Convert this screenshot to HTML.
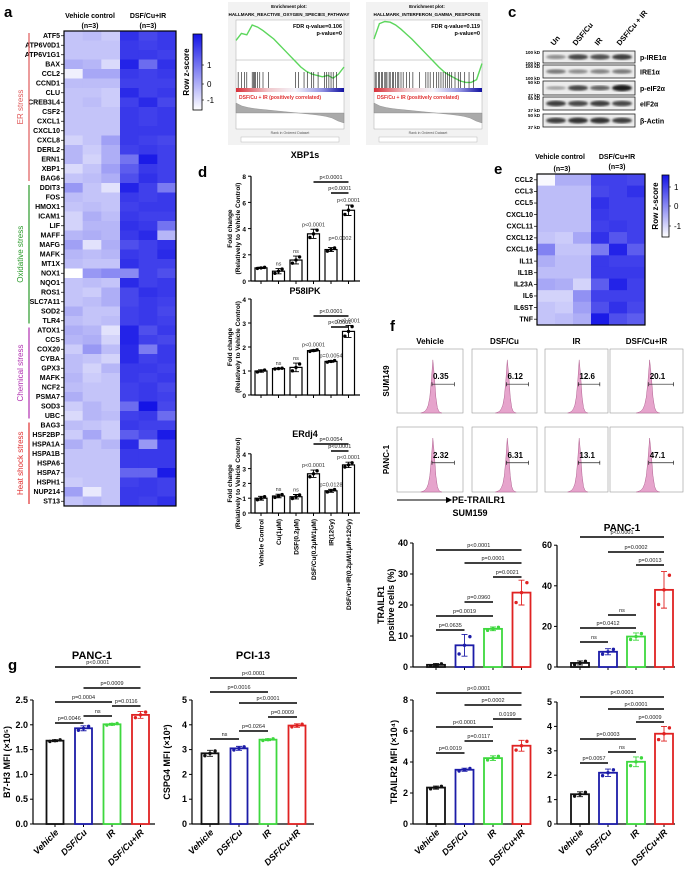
<!DOCTYPE html>
<html><head><meta charset="utf-8"><style>
html,body{margin:0;padding:0;background:#fff;}
svg{display:block;font-family:"Liberation Sans",Arial,sans-serif;}
</style></head><body>
<svg id="fig" width="685" height="872" viewBox="0 0 685 872" xmlns="http://www.w3.org/2000/svg">
<defs>
<linearGradient id="zbar" x1="0" y1="1" x2="0" y2="0"><stop offset="0" stop-color="#ffffff"/><stop offset="1" stop-color="#1414e6"/></linearGradient>
<linearGradient id="rankbar" x1="0" y1="0" x2="1" y2="0"><stop offset="0" stop-color="#d8303a"/><stop offset="0.3" stop-color="#f0c8cc"/><stop offset="0.55" stop-color="#f4f4fa"/><stop offset="0.8" stop-color="#9090e0"/><stop offset="1" stop-color="#1010a0"/></linearGradient>
<filter id="blur"><feGaussianBlur stdDeviation="1.1"/></filter>
</defs>
<g font-weight="bold">
<text x="4" y="17" font-size="15">a</text>
<text x="232" y="17" font-size="15">b</text>
<text x="508" y="17" font-size="15">c</text>
<text x="198" y="177" font-size="15">d</text>
<text x="494" y="174" font-size="15">e</text>
<text x="390" y="331" font-size="15">f</text>
<text x="8" y="670" font-size="15">g</text>
</g>
</svg>
<script>
const NS='http://www.w3.org/2000/svg';
const svg=document.getElementById('fig');
function mk(tag,attrs,txt,parent){const e=document.createElementNS(NS,tag);for(const k in attrs)e.setAttribute(k,attrs[k]);if(txt!=null)e.textContent=txt;(parent||svg).appendChild(e);return e;}

/* ---------- Panel a data ---------- */
const aGenes=['ATF5','ATP6V0D1','ATP6V1G1','BAX','CCL2','CCND1','CLU','CREB3L4','CSF2','CXCL1','CXCL10','CXCL8','DERL2','ERN1','XBP1','BAG6','DDIT3','FOS','HMOX1','ICAM1','LIF','MAFF','MAFG','MAFK','MT1X','NOX1','NQO1','ROS1','SLC7A11','SOD2','TLR4','ATOX1','CCS','COX20','CYBA','GPX3','MAFK','NCF2','PSMA7','SOD3','UBC','BAG3','HSF2BP','HSPA1A','HSPA1B','HSPA6','HSPA7','HSPH1','NUP214','ST13'];
const aZ=[
[-0.8,-0.7,-0.9,1.2,0.9,1.1],[-0.8,-0.8,-0.8,1.1,1.0,1.1],[-0.8,-0.8,-0.8,1.1,1.1,1.0],[-0.5,-0.6,-1.1,1.4,0.4,1.2],
[-1.4,-0.4,-0.4,1.1,1.0,1.1],[-0.7,-0.7,-0.7,1.0,1.0,1.0],[-0.8,-0.8,-0.9,1.3,1.0,1.1],[-0.8,-0.7,-0.9,1.0,1.3,0.9],
[-0.8,-0.8,-0.8,1.1,1.0,1.1],[-0.8,-0.8,-0.8,1.1,1.0,1.1],[-0.8,-0.8,-0.8,1.1,1.1,1.1],[-1.0,-0.8,-0.3,1.1,1.0,0.9],
[-0.6,-0.9,-0.5,1.0,1.1,1.0],[-0.6,-1.0,-0.5,0.3,1.5,1.0],[-1.1,-0.8,-0.3,0.6,1.1,1.0],[-0.8,-0.7,-0.5,0.8,1.2,1.0],
[-0.2,-0.8,-1.2,1.4,1.0,0.2],[-0.7,-0.8,-0.8,1.1,1.0,1.1],[-0.8,-0.7,-0.8,1.0,1.1,1.1],[-1.0,-0.5,-0.7,1.1,1.0,1.0],
[-1.0,-0.6,-0.6,1.2,1.1,0.3],[-0.6,-0.5,-0.6,1.1,1.3,-0.6],[-0.3,-1.2,-0.5,0.8,1.0,1.2],[-0.6,-0.7,-0.6,1.1,1.0,1.3],
[-0.7,-0.8,-0.8,1.2,1.0,1.0],[-1.6,-0.2,0.0,0.0,1.0,0.8],[-0.8,-0.7,-0.8,1.3,1.0,1.1],[-0.8,-0.9,-0.5,0.9,1.2,1.1],
[-0.8,-0.7,-0.5,0.9,1.1,1.0],[-0.5,-0.8,-0.8,1.0,1.1,0.9],[-0.7,-0.8,-0.7,1.0,1.1,1.0],[-0.5,-0.6,-1.2,1.4,0.8,1.1],
[-0.6,-0.5,-1.0,1.4,1.0,0.9],[-0.9,-0.2,-0.7,1.3,0.2,1.1],[-0.7,-0.8,-1.0,1.3,1.0,1.1],[-0.7,-1.0,-0.6,1.1,1.1,1.0],
[-0.6,-0.9,-0.8,1.1,1.0,1.1],[-0.7,-0.8,-0.8,1.0,1.1,0.9],[-0.5,-0.8,-0.8,1.0,1.1,1.0],[-0.9,-0.6,-0.8,0.4,1.6,0.9],
[-1.1,-0.6,-0.7,1.0,1.1,0.4],[-0.7,-0.8,-0.9,1.1,1.0,1.0],[-0.9,-0.4,-0.9,0.6,0.9,1.5],[-0.5,-0.8,-0.6,1.3,-0.2,1.1],
[-0.8,-0.8,-0.8,1.1,1.1,1.1],[-0.8,-0.8,-0.8,1.1,1.1,1.1],[-0.8,-0.8,-0.8,0.5,0.5,1.5],[-0.9,-0.8,-0.8,1.0,1.1,1.0],
[-0.3,-1.3,-0.8,1.1,1.1,1.0],[-0.8,-0.6,-0.8,1.1,1.0,1.2]];
const aGroups=[{name:'ER stress',start:0,end:15,color:'#e05a5a'},{name:'Oxidative stress',start:16,end:30,color:'#2a9a2a'},{name:'Chemical stress',start:31,end:40,color:'#b030b0'},{name:'Heat shock stress',start:41,end:49,color:'#e03030'}];

/* ---------- Panel e data ---------- */
const eGenes=['CCL2','CCL3','CCL5','CXCL10','CXCL11','CXCL12','CXCL16','IL11','IL1B','IL23A','IL6','IL6ST','TNF'];
const eZ=[[-1.5,-0.5,-0.5,1.0,1.0,0.9],[-0.7,-0.7,-0.7,0.9,1.0,1.2],[-0.7,-0.7,-0.7,1.2,1.0,1.0],[-0.7,-0.7,-0.7,1.1,1.0,1.0],
[-0.7,-0.7,-0.7,1.0,1.1,1.0],[-0.8,-0.9,-0.4,1.2,0.7,1.0],[0.1,-0.8,-0.8,0.2,1.4,0.6],[-0.5,-0.7,-0.7,1.1,1.0,1.0],
[-0.7,-0.7,-0.7,1.1,1.1,1.1],[-0.4,-0.5,-1.0,0.6,1.4,1.0],[-1.0,-1.0,-0.1,1.0,1.0,1.0],[-0.8,-0.9,-0.3,0.8,1.2,0.9],[-0.8,-0.7,-0.5,1.5,0.8,0.6]];

/* ---------- Panel b data ---------- */
const gsea1ES=[0.28,0.38,0.36,0.5,0.47,0.42,0.36,0.3,0.22,0.14,0.06,-0.02,-0.1,-0.16,-0.2,-0.22,-0.24,-0.22,-0.26,-0.2,-0.1];
const gsea2ES=[0.3,0.52,0.55,0.54,0.5,0.44,0.37,0.3,0.22,0.14,0.06,-0.02,-0.1,-0.17,-0.22,-0.26,-0.3,-0.32,-0.32,-0.28,-0.05];
const gsea1Hits=[0.02,0.05,0.08,0.1,0.15,0.16,0.17,0.18,0.2,0.22,0.25,0.3,0.55,0.58,0.63,0.66,0.7,0.72,0.76,0.82,0.84,0.86,0.88,0.9,0.93];
const gsea2Hits=[0.01,0.02,0.04,0.05,0.07,0.08,0.1,0.11,0.12,0.14,0.15,0.17,0.18,0.2,0.22,0.23,0.25,0.27,0.3,0.33,0.36,0.42,0.48,0.5,0.52,0.55,0.58,0.6,0.62,0.64,0.66,0.68,0.7,0.72,0.75,0.78,0.8,0.84,0.88,0.92];
const gseaRank=[1,0.7,0.55,0.45,0.38,0.32,0.26,0.2,0.14,0.08,0.02,-0.04,-0.1,-0.16,-0.24,-0.34,-0.5,-0.8,-1];
const gseaStats=[['FDR q-value=0.106','p-value=0'],['FDR q-value=0.119','p-value=0']];
const gseaTitles=['HALLMARK_REACTIVE_OXYGEN_SPECIES_PATHWAY','HALLMARK_INTERFERON_GAMMA_RESPONSE'];

/* ---------- Panel c data ---------- */
const wbLanes=['Un','DSF/Cu','IR','DSF/Cu + IR'];
const wbProteins=['p-IRE1α','IRE1α','p-eIF2α','eIF2α','β-Actin'];
const wbIntensity=[[0.45,0.8,0.75,0.85],[0.55,0.45,0.5,0.55],[0.35,0.8,0.65,1.0],[0.85,0.8,0.85,0.8],[0.85,0.9,0.9,0.85]];
const wbMarkers=[['100 kD','100 kD'],['100 kD','100 kD'],['50 kD','37 kD'],['50 kD','37 kD'],['50 kD','37 kD']];

/* ---------- Panel d data ---------- */
const dCats=['Vehicle Control','Cu(1μM)','DSF(0.2μM)','DSF/Cu(0.2μM/1μM)','IR(12Gy)','DSF/Cu+IR(0.2μM/1μM+12Gy)'];
const xbpVals=[1.0,0.75,1.6,3.6,2.4,5.4];
const xbpErr=[0.05,0.2,0.3,0.35,0.15,0.4];
const xbpTicks=[0,2,4,6,8];
const p58Vals=[1.0,1.1,1.15,1.85,1.4,2.65];
const p58Err=[0.05,0.02,0.18,0.04,0.04,0.25];
const p58Ticks=[0,1,2,3,4];
const erdVals=[1.0,1.15,1.1,2.65,1.5,3.25];
const erdErr=[0.13,0.12,0.15,0.25,0.1,0.18];
const erdTicks=[0,1,2,3,4];

/* ---------- Panel f / g data ---------- */
const grpCats=['Vehicle','DSF/Cu','IR','DSF/Cu+IR'];
const grpColors=['#111111','#1c1ca8','#3ed83e','#e02222'];
const flowCols=['Vehicle','DSF/Cu','IR','DSF/Cu+IR'];
const flowRows=['SUM149','PANC-1'];
const flowGates=[['0.35','6.12','12.6','20.1'],['2.32','6.31','13.1','47.1']];
const flowShape=[0,0.01,0.02,0.04,0.08,0.15,0.3,0.6,1.0,0.7,0.3,0.1,0.03,0.01,0];
const t1SumVals=[0.7,7,12.3,24];const t1SumErr=[0.4,3.5,0.6,4];const t1SumTicks=[0,10,20,30,40];
const t1PanVals=[2,7.5,15,38];const t1PanErr=[1,1.5,1.8,9];const t1PanTicks=[0,20,40,60];
const t2SumVals=[2.35,3.5,4.25,5.05];const t2SumErr=[0.1,0.1,0.15,0.35];const t2SumTicks=[0,2,4,6,8];
const t2PanVals=[1.22,2.1,2.55,3.7];const t2PanErr=[0.1,0.15,0.2,0.3];const t2PanTicks=[0,1,2,3,4,5];
const b7Vals=[1.68,1.93,2.01,2.2];const b7Err=[0.02,0.05,0.02,0.07];const b7Ticks=[0,0.5,1.0,1.5,2.0,2.5];
const cspVals=[2.85,3.05,3.4,3.97];const cspErr=[0.12,0.08,0.04,0.07];const cspTicks=[0,1,2,3,4,5];

/* ---------- heatmap ---------- */
function zcol(z){let t=(z+1.6)/3.2;t=Math.max(0,Math.min(1,t));const r=Math.round(255-t*235),g=Math.round(255-t*235),b=Math.round(255-t*25);return `rgb(${r},${g},${b})`;}
function heatmap(genes,Z,x0,y0,w,h,prefix){
  const cw=w/6,rh=h/genes.length;
  Z.forEach((row,i)=>{row.forEach((z,j)=>{
    const c=mk('rect',{x:x0+j*cw,y:y0+i*rh,width:cw+0.4,height:rh+0.4,fill:zcol(z)});
    
    
  });
    const t=mk('text',{x:x0-4,y:y0+i*rh+rh/2+2.2,'font-size':Math.min(7,rh*0.8),'font-weight':'bold','text-anchor':'end'},genes[i]);
    
    
    mk('line',{x1:x0-3,x2:x0,y1:y0+i*rh+rh/2,y2:y0+i*rh+rh/2,stroke:'#000','stroke-width':0.7});
  });
  const b=mk('rect',{x:x0,y:y0,width:w,height:h,fill:'none',stroke:'#000','stroke-width':1.2});
  
  
}
function colorbar(x,y,w,h,prefix,tickY){
  const r=mk('rect',{x:x,y:y,width:w,height:h,fill:'url(#zbar)',stroke:'#000','stroke-width':0.8});
  
  
  [['1',tickY[0]],['0',tickY[1]],['-1',tickY[2]]].forEach(([l,yy])=>{
    mk('line',{x1:x+w,x2:x+w+2,y1:yy,y2:yy,stroke:'#000','stroke-width':0.6});
    const t=mk('text',{x:x+w+5,y:yy+3,'font-size':8},l);
    
    
  });
  const tt=mk('text',{x:0,y:0,'font-size':8,'font-weight':'bold','text-anchor':'middle',transform:`translate(${x-4},${y+h/2}) rotate(-90)`},'Row z-score');
  
  
}
heatmap(aGenes,aZ,64,31,112,475,'heatmap-a');
colorbar(193,34,9,76,'heatmap-a',[65,84,100]);
[['Vehicle control',90,18],['(n=3)',90,28],['DSF/Cu+IR',148,18],['(n=3)',148,28]].forEach(([s,x,y])=>{
  const t=mk('text',{x:x,y:y,'font-size':7,'font-weight':'bold','text-anchor':'middle'},s);
  
  
});
aGroups.forEach(g=>{
  const rh=475/50,ya=31+g.start*rh+2,yb=31+(g.end+1)*rh-2;
  const l=mk('line',{x1:29,x2:29,y1:ya,y2:yb,stroke:g.color,'stroke-width':1.2});
  
  
  const t=mk('text',{x:0,y:0,'font-size':8,fill:g.color,'text-anchor':'middle',transform:`translate(23,${(ya+yb)/2}) rotate(-90)`},g.name);
  
  
});
heatmap(eGenes,eZ,537,174,108,151,'heatmap-e');
colorbar(662,175,7,62,'heatmap-e',[187,206,226]);
[['Vehicle control',560,159],['(n=3)',562,171],['DSF/Cu+IR',617,159],['(n=3)',617,169]].forEach(([s,x,y])=>{
  const t=mk('text',{x:x,y:y,'font-size':7,'font-weight':'bold','text-anchor':'middle'},s);
  
  
});

/* ---------- GSEA ---------- */
function gsea(x0,idx,es,hits){
  const w=118;
  const bg=mk('rect',{x:x0,y:2,width:w+4,height:143,fill:'#f2f2f2'});
  
  
  const t1=mk('text',{x:x0+w/2+2,y:8,'font-size':4.5,'font-weight':'bold','text-anchor':'middle'},'Enrichment plot:');
  
  
  const t2=mk('text',{x:x0+w/2+2,y:16,'font-size':4.6,'font-weight':'bold','text-anchor':'middle'},gseaTitles[idx]);
  
  
  const px=x0+8,pw=w-10;
  mk('rect',{x:px,y:20,width:pw,height:109,fill:'#fff',stroke:'#999','stroke-width':0.4});
  const ey=v=>60-v*70;
  mk('line',{x1:px,x2:px+pw,y1:ey(0),y2:ey(0),stroke:'#888','stroke-width':0.4});
  const pts=es.map((v,i)=>`${px+i/(es.length-1)*pw},${ey(v)}`).join(' ');
  const p=mk('polyline',{points:pts,fill:'none',stroke:'#5cd65c','stroke-width':1.4});
  
  
  hits.forEach(h=>{
    const l=mk('line',{x1:px+h*pw,x2:px+h*pw,y1:72,y2:88,stroke:'#111','stroke-width':0.6});
    
    
  });
  const rb=mk('rect',{x:px,y:88,width:pw,height:4,fill:'url(#rankbar)'});
  
  
  const rl=mk('text',{x:px+3,y:99,'font-size':5,'font-weight':'bold',fill:'#e03030'},'DSF/Cu + IR (positively correlated)');
  
  
  const ry=v=>113-v*10;
  const rp='M'+px+','+ry(0)+' '+gseaRank.map((v,i)=>`L${px+i/(gseaRank.length-1)*pw},${ry(v)}`).join(' ')+` L${px+pw},${ry(0)} Z`;
  const ra=mk('path',{d:rp,fill:'#aaa',stroke:'#777','stroke-width':0.3});
  
  
  gseaStats[idx].forEach((s,k)=>{
    const st=mk('text',{x:px+pw-2,y:28+k*7,'font-size':5.5,'font-weight':'bold','text-anchor':'end'},s);
    
    
  });
  mk('text',{x:px+pw/2,y:134,'font-size':3.5,fill:'#555','text-anchor':'middle'},'Rank in Ordered Dataset');
  const lg=mk('rect',{x:px+5,y:137,width:pw-10,height:5,fill:'#fff',stroke:'#aaa','stroke-width':0.4});
  
  
}
gsea(228,0,gsea1ES,gsea1Hits);
gsea(366,1,gsea2ES,gsea2Hits);

/* ---------- Western blot ---------- */
const wbRowsY=[51,65,81,97,114],wbRowH=[12,13,14,13,13];
wbProteins.forEach((p,r)=>{
  const y=wbRowsY[r],h=wbRowH[r];
  const box=mk('rect',{x:543,y:y,width:92,height:h,fill:'#ececec',stroke:'#222','stroke-width':0.8});
  
  
  wbIntensity[r].forEach((v,j)=>{
    const g=Math.round(230-v*200);
    const b=mk('ellipse',{cx:556+j*22,cy:y+h/2,rx:10,ry:1.2+v*2,fill:`rgb(${g},${g},${g})`,filter:'url(#blur)'});
    
    
  });
  const t=mk('text',{x:640,y:y+h/2+3,'font-size':7,'font-weight':'bold'},p);
  
  
  wbMarkers[r].forEach((m,k)=>{
    const mt=mk('text',{x:540,y:y+3+k*(h-1),'font-size':4.5,'font-weight':'bold','text-anchor':'end'},m);
    
    
  });
});
wbLanes.forEach((l,j)=>{
  const t=mk('text',{x:0,y:0,'font-size':7.5,'font-weight':'bold',transform:`translate(${554+j*22},46) rotate(-50)`},l);
  
  
});

/* ---------- Bar chart function ---------- */
function barChart(o){
  const y=v=>o.y0-v*o.unit;
  const top=y(o.ticks[o.ticks.length-1]);
  const ax=mk('line',{x1:o.axisX,x2:o.axisX,y1:o.y0,y2:top,stroke:'#000','stroke-width':1.2});
  
  
  const xa=mk('line',{x1:o.axisX,x2:o.axisX+o.width,y1:o.y0,y2:o.y0,stroke:'#000','stroke-width':1.2});
  
  
  o.ticks.forEach(t=>{
    mk('line',{x1:o.axisX-3,x2:o.axisX,y1:y(t),y2:y(t),stroke:'#000','stroke-width':1});
    const tl=mk('text',{x:o.axisX-5,y:y(t)+3,'font-size':o.fs||9,'font-weight':'bold','text-anchor':'end'},o.tickFmt?o.tickFmt(t):String(t));
    
    
  });
  o.vals.forEach((v,i)=>{
    const cx=o.c0+i*o.step,col=o.colors?o.colors[i]:'#000';
    mk('line',{x1:cx,x2:cx,y1:o.y0,y2:o.y0+3,stroke:'#000','stroke-width':1});
    const r=mk('rect',{x:cx-o.bw/2,y:y(v),width:o.bw,height:o.y0-y(v),fill:'#fff',stroke:col,'stroke-width':o.sw||1.8});
    
    
    const e=o.err[i];
    const el=mk('path',{d:`M${cx},${y(v+e)}V${y(v-e)}M${cx-3},${y(v+e)}H${cx+3}M${cx-3},${y(v-e)}H${cx+3}`,stroke:col,'stroke-width':0.9,fill:'none'});
    
    
    [-0.6,0,0.6].forEach((d,k)=>{
      const pt=mk('circle',{cx:cx+d*o.bw*0.5,cy:y(v+(k-1)*e*0.8),r:1.7,fill:col});
      
      
    });
    if(o.labels){
      let lab;
      if(o.rot===-90) lab=mk('text',{x:0,y:0,'font-size':6.5,'font-weight':'bold','text-anchor':'end',transform:`translate(${cx+2.5},${o.y0+6}) rotate(-90)`},o.labels[i]);
      else lab=mk('text',{x:0,y:0,'font-size':9,'font-weight':'bold','font-style':'italic','text-anchor':'end',transform:`translate(${cx+4},${o.y0+9}) rotate(-45)`},o.labels[i]);
      
      
    }
    if(o.ann&&o.ann[i]){
      const at=mk('text',{x:cx,y:y(v+e)-3,'font-size':5.5,fill:'#333','text-anchor':'middle'},o.ann[i]);
      
      
    }
  });
  (o.sig||[]).forEach(s=>{
    const xa2=o.c0+s[0]*o.step,xb=o.c0+s[1]*o.step;
    const l=mk('line',{x1:xa2,x2:xb,y1:s[2],y2:s[2],stroke:'#000','stroke-width':1.5});
    
    
    const t=mk('text',{x:(xa2+xb)/2,y:s[2]-3,'font-size':o.sigFs||5.5,fill:'#222','text-anchor':'middle'},s[3]);
    
    
  });
  if(o.title){
    const t=mk('text',{x:o.titleX,y:o.titleY,'font-size':o.titleFs||10,'font-weight':'bold','text-anchor':'middle'},o.title);
    
    
  }
  (o.ylab||[]).forEach((s,k)=>{
    const t=mk('text',{x:0,y:0,'font-size':o.ylabFs||9,'font-weight':'bold','text-anchor':'middle',transform:`translate(${o.ylabX+k*(o.ylabGap||10)},${(o.y0+top)/2}) rotate(-90)`},s);
    
    
  });
}

/* panel d */
const dCommon={axisX:251,width:109,c0:261,step:17.5,bw:12,sw:1.2,fs:6.5,titleX:305,titleFs:9,ylabX:232,ylabGap:8,ylabFs:6.5};
barChart(Object.assign({},dCommon,{name:'xbp1s',y0:281,unit:13.1,ticks:xbpTicks,vals:xbpVals,err:xbpErr,title:'XBP1s',titleY:158,
  ylab:['Fold change','(Relatively to Vehicle Control)'],ann:['','ns','ns','p<0.0001','','p<0.0001'],
  sig:[[3,5,182,'p<0.0001'],[4,5,193,'p<0.0001']]}));
mk('text',{x:340,y:240,'font-size':5.5,fill:'#333','text-anchor':'middle'},'p=0.0002');
barChart(Object.assign({},dCommon,{name:'p58ipk',y0:395,unit:24,ticks:p58Ticks,vals:p58Vals,err:p58Err,title:'P58IPK',titleY:294,
  ylab:['Fold change','(Relatively to Vehicle Control)'],ann:['','ns','ns','p<0.0001','p=0.0054','p<0.0001'],
  sig:[[3,5,316,'p<0.0001'],[4,5,327,'p<0.0001']]}));
barChart(Object.assign({},dCommon,{name:'erdj4',y0:513,unit:14.8,ticks:erdTicks,vals:erdVals,err:erdErr,title:'ERdj4',titleY:437,
  ylab:['Fold change','(Relatively to Vehicle Control)'],ann:['','ns','ns','p<0.0001','p=0.0128','p<0.0001'],
  sig:[[3,5,444,'p=0.0054'],[4,5,451,'p<0.0001']],labels:dCats,rot:-90}));

/* flow histograms */
const fX=[397,472,545,610],fW=[66,65,63,73],fY=[349,427],fH=[64,65];
flowCols.forEach((c,j)=>{
  const t=mk('text',{x:fX[j]+fW[j]/2,y:344,'font-size':8,'font-weight':'bold','text-anchor':'middle'},c);
  
  
});
flowRows.forEach((rname,r)=>{
  const rt=mk('text',{x:0,y:0,'font-size':8,'font-weight':'bold','text-anchor':'middle',transform:`translate(389,${fY[r]+fH[r]/2}) rotate(-90)`},rname);
  
  
  flowCols.forEach((c,j)=>{
    const x=fX[j],y=fY[r],w=fW[j],h=fH[r];
    const b=mk('rect',{x:x,y:y,width:w,height:h,fill:'#fff',stroke:'#999','stroke-width':0.6});
    
    
    const pw=w*0.32,px=x+w*0.52-pw/2;
    const d='M'+px+','+(y+h)+' '+flowShape.map((v,i)=>`L${px+i/(flowShape.length-1)*pw},${y+h-v*(h*0.83)}`).join(' ')+' Z';
    const p=mk('path',{d:d,fill:'#e6a4cc',stroke:'#b06090','stroke-width':0.5});
    
    
    const gx=x+w*0.53,gy=y+h*0.55;
    mk('path',{d:`M${gx},${gy}H${x+w*0.87}M${gx},${gy-2}V${gy+2}M${x+w*0.87},${gy-2}V${gy+2}`,stroke:'#222','stroke-width':0.7});
    const gt=mk('text',{x:gx+1,y:gy-5,'font-size':8,'font-weight':'bold'},flowGates[r][j]);
    
    
  });
});
mk('path',{d:'M397,500H450M446,497.5L451,500L446,502.5',stroke:'#000','stroke-width':1,fill:'#000'});
mk('text',{x:452,y:503,'font-size':9,'font-weight':'bold'},'PE-TRAILR1');
mk('text',{x:470,y:516,'font-size':9,'font-weight':'bold','text-anchor':'middle'},'SUM159');

/* f bar charts */
barChart({name:'trailr1-sum159',axisX:413,width:118,y0:667,unit:3.1,c0:436,step:28.5,bw:18,ticks:t1SumTicks,vals:t1SumVals,err:t1SumErr,colors:grpColors,
  ylab:['TRAILR1','positive cells (%)'],ylabX:384,ylabGap:10,
  sig:[[0,3,550,'p<0.0001'],[1,3,563,'p=0.0001'],[2,3,577,'p=0.0021'],[1,2,602,'p=0.0960'],[0,2,616,'p=0.0019'],[0,1,630,'p=0.0635']]});
barChart({name:'trailr1-panc1',axisX:557,width:118,y0:667,unit:2.03,c0:580,step:28,bw:18,ticks:t1PanTicks,vals:t1PanVals,err:t1PanErr,colors:grpColors,
  title:'PANC-1',titleX:622,titleY:531,
  sig:[[0,3,537,'p<0.0001'],[1,3,552,'p=0.0002'],[2,3,565,'p=0.0013'],[1,2,615,'ns'],[0,2,628,'p=0.0412'],[0,1,642,'ns']]});
barChart({name:'trailr2-sum159',axisX:413,width:118,y0:824,unit:15.5,c0:436,step:28.5,bw:18,ticks:t2SumTicks,vals:t2SumVals,err:t2SumErr,colors:grpColors,
  ylab:['TRAILR2 MFI (×10⁴)'],ylabX:397,labels:grpCats,
  sig:[[0,3,693,'p<0.0001'],[1,3,705,'p=0.0002'],[2,3,719,'0.0199'],[0,2,727,'p<0.0001'],[1,2,741,'p=0.0117'],[0,1,753,'p=0.0019']]});
barChart({name:'trailr2-panc1',axisX:557,width:118,y0:824,unit:24.4,c0:580,step:28,bw:18,ticks:t2PanTicks,vals:t2PanVals,err:t2PanErr,colors:grpColors,labels:grpCats,
  sig:[[0,3,697,'p<0.0001'],[1,3,709,'p<0.0001'],[2,3,722,'p=0.0009'],[0,2,739,'p=0.0003'],[1,2,752,'ns'],[0,1,763,'p=0.0057']]});

/* g bar charts */
barChart({name:'b7h3-panc1',axisX:33,width:122,y0:824,unit:49.6,c0:55,step:28.5,bw:17,ticks:b7Ticks,vals:b7Vals,err:b7Err,colors:grpColors,
  tickFmt:t=>t.toFixed(1),title:'PANC-1',titleX:92,titleY:659,titleFs:11,ylab:['B7-H3 MFI (×10⁵)'],ylabX:10,labels:grpCats,
  sig:[[0,3,667,'p<0.0001'],[1,3,688,'p=0.0009'],[0,2,702,'p=0.0004'],[2,3,706,'p=0.0116'],[1,2,716,'ns'],[0,1,723,'p=0.0046']]});
barChart({name:'cspg4-pci13',axisX:192,width:122,y0:824,unit:24.8,c0:210,step:29,bw:17,ticks:cspTicks,vals:cspVals,err:cspErr,colors:grpColors,
  title:'PCI-13',titleX:253,titleY:659,titleFs:11,ylab:['CSPG4 MFI (×10³)'],ylabX:170,labels:grpCats,
  sig:[[0,3,678,'p<0.0001'],[0,2,692,'p=0.0016'],[1,3,703,'p<0.0001'],[2,3,717,'p=0.0009'],[1,2,731,'p=0.0264'],[0,1,739,'ns']]});
</script>
</body></html>
